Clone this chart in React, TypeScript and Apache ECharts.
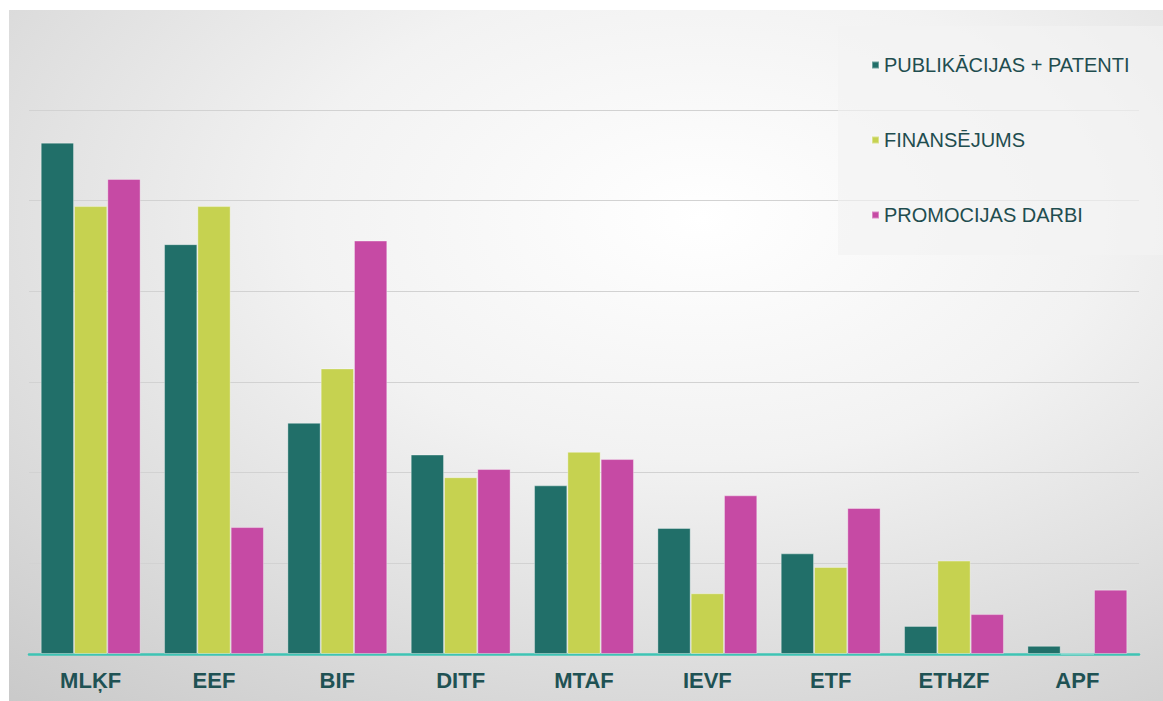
import React, { useEffect, useRef } from "react";
import * as echarts from "echarts";

const categories = ["MLĶF", "EEF", "BIF", "DITF", "MTAF", "IEVF", "ETF", "ETHZF", "APF"];
const seriesNames = ["PUBLIKĀCIJAS + PATENTI", "FINANSĒJUMS", "PROMOCIJAS DARBI"];
const publikacijas = [5.64, 4.52, 2.55, 2.2, 1.86, 1.39, 1.11, 0.31, 0.09];
const finansejums = [4.94, 4.94, 3.15, 1.95, 2.23, 0.67, 0.96, 1.03, 0];
const promocijas = [5.24, 1.4, 4.56, 2.04, 2.15, 1.75, 1.61, 0.44, 0.71];
const colors = ["#216f69", "#c6d250", "#c64aa4"];

export default function App() {
  const ref = useRef<HTMLDivElement>(null);
  useEffect(() => {
    document.body.style.margin = "0";
    document.body.style.background = "#ffffff";
    const chart = echarts.init(ref.current!, null, { renderer: "svg" });
    const data = [publikacijas, finansejums, promocijas];
    chart.setOption({
      animation: false,
      backgroundColor: new echarts.graphic.RadialGradient(0.6, 0.3, 1.0, [
        { offset: 0, color: "#ffffff" },
        { offset: 0.35, color: "#f2f2f2" },
        { offset: 1, color: "#c4c4c4" },
      ]),
      color: colors,
      grid: { left: 20, right: 24, top: 100, bottom: 47, containLabel: false },
      graphic: [
        {
          type: "rect",
          z: 1,
          shape: { x: 829, y: 16, width: 330, height: 229 },
          style: { fill: "rgba(242,242,242,0.65)" },
        },
      ],
      legend: {
        orient: "vertical",
        left: 857,
        top: 40,
        itemWidth: 7,
        itemHeight: 7,
        itemGap: 55,
        icon: "rect",
        data: seriesNames,
        textStyle: { fontFamily: "Liberation Sans", fontSize: 20, color: "#1f4d4f" },
      },
      xAxis: {
        type: "category",
        data: categories,
        axisLine: { lineStyle: { color: "#3ec4b4", width: 2.5 } },
        axisTick: { show: false },
        axisLabel: {
          margin: 15,
          fontFamily: "Liberation Sans",
          fontSize: 22,
          fontWeight: "bold",
          color: "#1f5254",
        },
      },
      yAxis: {
        type: "value",
        min: 0,
        max: 6,
        interval: 1,
        axisLabel: { show: false },
        axisLine: { show: false },
        axisTick: { show: false },
        splitLine: { lineStyle: { color: "#d2d2d2", width: 1 } },
      },
      series: seriesNames.map((name, i) => ({
        name,
        type: "bar",
        data: data[i],
        barGap: "0%",
        barCategoryGap: "19%",
        itemStyle: { color: colors[i], borderColor: "rgba(255,255,255,0.35)", borderWidth: 1 },
      })),
    });
    return () => chart.dispose();
  }, []);
  return (
    <div
      ref={ref}
      style={{ position: "absolute", left: 9, top: 10, width: 1154, height: 691 }}
    />
  );
}
